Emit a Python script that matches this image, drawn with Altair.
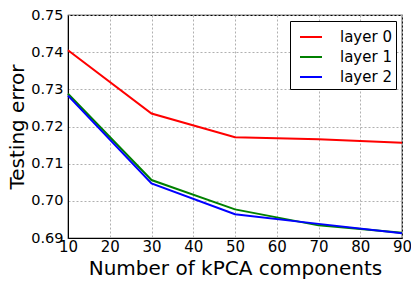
import altair as alt
import pandas as pd

components = [10, 30, 50, 70, 90]
layer0 = [0.7405, 0.7235, 0.7171, 0.7166, 0.7156]
layer1 = [0.7288, 0.7056, 0.6977, 0.6934, 0.6914]
layer2 = [0.7283, 0.7047, 0.6964, 0.6938, 0.6913]
series_names = ["layer 0", "layer 1", "layer 2"]
series_colors = ["#ff0000", "#008000", "#0000ff"]

rows = []
for name, vals in zip(series_names, [layer0, layer1, layer2]):
    for c, v in zip(components, vals):
        rows.append({"k": c, "err": v, "series": name})
df = pd.DataFrame(rows)

font = "DejaVu Sans"

chart = alt.Chart(df).mark_line(strokeWidth=2).encode(
    x=alt.X("k:Q", title="Number of kPCA components",
            scale=alt.Scale(domain=[10, 90], nice=False),
            axis=alt.Axis(values=list(range(10, 91, 10)), format="d",
                          grid=True, gridDash=[2, 2], gridColor="#b0b0b0",
                          domainColor="black", ticks=False, labelPadding=1,
                          labelFlush=False, labelOverlap=False,
                          labelFontSize=15, titleFontSize=20, titlePadding=4,
                          labelColor="black", titleColor="black",
                          titleFontWeight="normal")),
    y=alt.Y("err:Q", title="Testing error",
            scale=alt.Scale(domain=[0.69, 0.75], nice=False, zero=False),
            axis=alt.Axis(values=[0.69, 0.70, 0.71, 0.72, 0.73, 0.74, 0.75], format=".2f",
                          grid=True, gridDash=[2, 2], gridColor="#b0b0b0",
                          domainColor="black", ticks=False, labelPadding=5,
                          labelFlush=False, labelOverlap=False,
                          labelFontSize=14.5, titleFontSize=20, titlePadding=3,
                          labelColor="black", titleColor="black",
                          titleFontWeight="normal")),
    color=alt.Color("series:N",
                    scale=alt.Scale(domain=series_names, range=series_colors),
                    legend=alt.Legend(title=None, orient="none",
                                      legendX=222, legendY=6,
                                      symbolType="stroke", symbolStrokeWidth=2,
                                      symbolSize=484, symbolOffset=5,
                                      labelFontSize=15,
                                      labelOffset=17, rowPadding=0,
                                      padding=4, strokeColor="black",
                                      fillColor="white", labelColor="black",
                                      labelFont=font)),
).properties(
    width=334, height=223,
    autosize=alt.AutoSizeParams(type="none"),
    padding={"left": 60, "top": 7, "right": 9, "bottom": 50},
).configure(font=font).configure_view(stroke="black", strokeWidth=1.2)

chart.save("out.html", embed_options={"renderer": "svg", "actions": False})
